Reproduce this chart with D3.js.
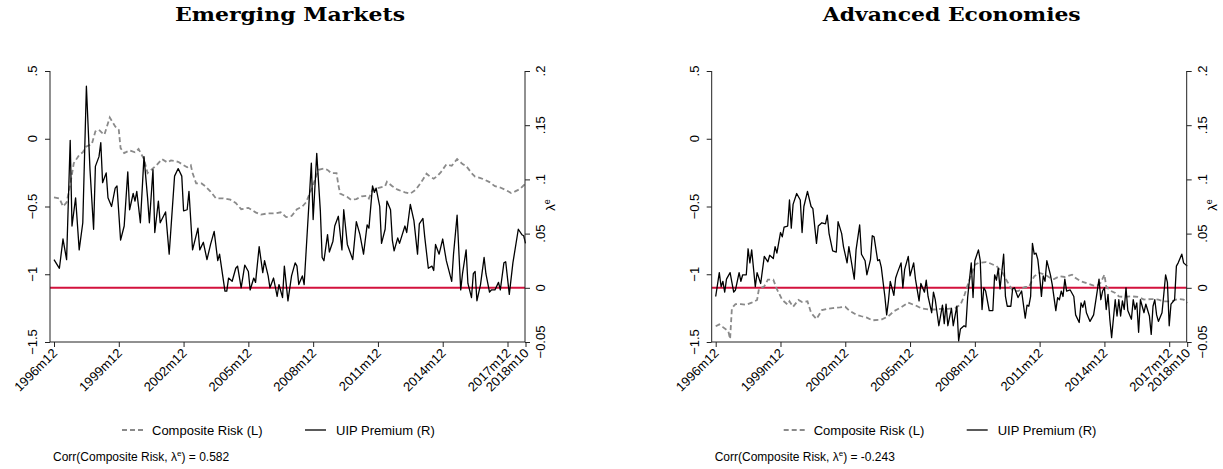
<!DOCTYPE html>
<html>
<head>
<meta charset="utf-8">
<script src="https://cdnjs.cloudflare.com/ajax/libs/d3/7.8.5/d3.min.js"></script>
<style>
  body { margin: 0; background: #fff; }
  text { font-family: "Liberation Sans", Arial, sans-serif; fill: #000; }
</style>
</head>
<body>
<svg id="chart" width="1223" height="469"></svg>
<script>
// months counted from 1996m12 (0) to 2018m10 (262)
const tickMonths = [0, 36, 72, 108, 144, 180, 216, 252, 262];

// Emerging markets
const emRiskMonth = [0,3,5,7,9,11,14,16,18,21,23,25,27,28,31,34,36,37,39,42,45,47,50,52,54,57,60,63,65,69,72,74,76,77,79,82,84,87,90,94,98,101,104,108,112,115,119,123,126,129,132,135,138,140,143,147,150,152,154,157,158,159,163,165,168,171,174,175,177,181,184,185,188,191,195,198,201,203,205,207,209,211,213,215,218,221,224,227,229,232,234,237,239,242,245,248,251,254,256,259,262];
const emRiskValue = [-0.432,-0.44,-0.5,-0.47,-0.34,-0.18,-0.12,-0.1,-0.057,-0.04,0.054,0.066,0.04,0.03,0.157,0.091,0.066,-0.069,-0.106,-0.086,-0.1,-0.076,-0.15,-0.253,-0.23,-0.195,-0.15,-0.175,-0.16,-0.17,-0.195,-0.21,-0.195,-0.253,-0.33,-0.33,-0.35,-0.39,-0.44,-0.44,-0.45,-0.474,-0.52,-0.51,-0.543,-0.56,-0.55,-0.55,-0.543,-0.578,-0.57,-0.52,-0.5,-0.47,-0.376,-0.229,-0.22,-0.23,-0.253,-0.253,-0.34,-0.405,-0.43,-0.45,-0.445,-0.425,-0.42,-0.44,-0.376,-0.36,-0.35,-0.317,-0.35,-0.376,-0.395,-0.405,-0.376,-0.34,-0.3,-0.258,-0.28,-0.295,-0.275,-0.246,-0.19,-0.2,-0.15,-0.187,-0.2,-0.253,-0.28,-0.29,-0.3,-0.32,-0.35,-0.36,-0.378,-0.4,-0.39,-0.37,-0.33];

const emUipMonth = [0,3,5,7,9,10,12,14,16,18,20,22,23,25,26,27,29,30,32,34,35,37,39,41,42,44,45,46,48,50,52,53,55,56,58,59,62,64,67,69,71,72,74,75,77,80,81,83,85,87,89,91,92,95,96,97,99,101,102,104,106,108,109,111,112,114,116,117,119,120,122,124,125,127,128,130,132,134,135,136,138,139,143,144,146,148,149,150,152,153,155,156,158,160,161,163,166,168,170,172,174,175,177,178,179,181,182,184,185,187,188,189,191,192,195,196,198,200,202,203,205,206,208,210,211,212,214,216,218,221,222,224,226,227,229,230,232,233,234,235,237,239,240,242,243,245,247,248,250,251,253,255,258,260,261,262];
const emUipValue = [0.026,0.018,0.045,0.026,0.136,0.057,0.083,0.035,0.06,0.186,0.109,0.054,0.112,0.121,0.134,0.097,0.106,0.083,0.075,0.092,0.094,0.044,0.057,0.107,0.072,0.087,0.08,0.089,0.06,0.121,0.083,0.06,0.109,0.051,0.08,0.06,0.07,0.031,0.103,0.11,0.103,0.071,0.072,0.089,0.035,0.055,0.035,0.042,0.026,0.04,0.052,0.025,0.031,-0.003,-0.003,0.009,0.006,0.018,0.02,0,0.021,0.015,-0.002,0.009,0.005,0.038,0.014,0.025,0.011,0,0.009,-0.008,0.003,-0.009,0.02,-0.012,0.011,0.023,0.02,0.003,0.011,0.003,0.115,0.063,0.124,0.071,0.028,0.025,0.049,0.033,0.043,0.057,0.066,0.035,0.072,0.04,0.026,0.061,0.049,0.031,0.058,0.055,0.094,0.088,0.092,0.075,0.041,0.054,0.08,0.072,0.044,0.034,0.046,0.041,0.057,0.051,0.077,0.062,0.031,0.059,0.064,0.047,0.018,0.02,0.016,0.04,0.031,0.045,0.025,0.006,0.031,0.067,-0.002,0.013,0.035,0.004,-0.009,0.013,0.015,-0.012,0.003,0.028,0.013,-0.004,-0.002,-0.002,0.005,-0.002,0.023,0.024,-0.006,0.023,0.054,0.049,0.048,0.041];

// Advanced economies
const aeRiskMonth = [0,2,4,7,8,9,11,14,17,20,23,24,27,29,32,34,37,40,41,43,46,48,51,53,56,59,62,65,69,72,74,78,81,84,87,92,96,99,103,107,111,114,118,122,125,129,133,136,138,141,144,146,150,152,156,159,161,163,165,168,171,172,174,177,180,183,186,188,191,194,198,200,203,207,210,212,214,216,217,219,222,224,227,231,235,238,242,246,249,253,257,260,262];
const aeRiskValue = [-1.384,-1.37,-1.39,-1.42,-1.477,-1.25,-1.22,-1.22,-1.225,-1.21,-1.19,-1.11,-1.089,-1.04,-1.04,-1.11,-1.19,-1.224,-1.2,-1.24,-1.19,-1.205,-1.2,-1.285,-1.33,-1.265,-1.255,-1.25,-1.245,-1.24,-1.265,-1.298,-1.31,-1.32,-1.34,-1.335,-1.31,-1.273,-1.245,-1.21,-1.23,-1.25,-1.26,-1.26,-1.255,-1.255,-1.25,-1.225,-1.163,-1.04,-0.93,-0.917,-0.91,-0.917,-0.94,-0.98,-1.03,-1.077,-1.12,-1.125,-1.1,-1.094,-1.094,-1.015,-0.99,-1.003,-1.028,-1.035,-1.015,-1.02,-1.003,-1.028,-1.052,-1.07,-1.084,-1.084,-1.06,-1.003,-1.09,-1.119,-1.138,-1.163,-1.168,-1.163,-1.168,-1.187,-1.183,-1.187,-1.2,-1.2,-1.183,-1.187,-1.212];

const aeUipMonth = [0,2,3,4,5,6,8,10,11,13,14,15,17,18,19,20,22,23,25,27,29,30,32,33,34,36,37,38,40,41,42,43,45,47,48,49,51,53,54,56,57,59,61,62,63,65,67,68,70,71,73,74,77,78,80,81,83,84,86,87,88,90,91,92,94,95,96,97,99,100,101,103,104,105,107,108,110,111,113,114,116,117,118,120,121,122,124,126,127,128,129,131,132,134,135,136,138,139,140,142,143,144,146,147,148,149,150,152,154,155,156,157,158,160,161,162,164,165,166,168,170,172,173,174,175,176,177,178,179,180,181,182,183,184,186,187,189,190,191,192,193,194,195,197,198,199,200,202,203,204,205,206,208,210,212,213,214,215,216,217,218,219,220,222,223,224,225,226,227,228,229,231,232,233,234,235,236,238,239,241,242,243,244,245,246,248,249,250,251,252,253,255,256,257,259,260,262];
const aeUipValue = [-0.008,0.014,0.001,0.006,-0.004,0.008,0.014,-0.004,-0.002,0.014,0.006,0.012,0.012,0.036,0.023,0.035,0.001,0.014,0.004,0.029,0.024,0.03,0.027,0.038,0.032,0.051,0.047,0.056,0.057,0.081,0.055,0.077,0.087,0.081,0.051,0.075,0.089,0.075,0.073,0.041,0.057,0.06,0.059,0.067,0.05,0.034,0.033,0.061,0.05,0.038,0.023,0.038,0.008,0.035,0.058,0.031,0.025,0.012,0.026,0.048,0.047,0.025,0.026,0.019,-0.008,-0.025,-0.012,0.006,-0.007,0.009,0.014,0.023,0,0.017,0.029,0.011,0.023,0.008,-0.012,0.004,-0.004,0.007,-0.008,-0.023,-0.004,-0.011,-0.035,-0.016,-0.033,-0.015,-0.035,-0.019,-0.035,-0.017,-0.049,-0.038,-0.035,-0.036,-0.009,0.023,-0.009,0.025,0.035,0.025,-0.02,0,-0.003,-0.021,-0.021,0.012,0.007,0.018,-0.001,0.031,-0.008,-0.017,-0.017,-0.001,0,-0.009,-0.003,-0.028,-0.016,-0.017,-0.008,0.041,0.031,0.032,0.026,0.011,-0.008,0.011,0.006,0.025,0.012,0.003,-0.021,-0.009,-0.011,-0.003,-0.008,0.008,-0.003,-0.002,-0.005,-0.008,-0.025,-0.032,-0.014,-0.018,-0.012,-0.023,-0.031,-0.025,-0.003,0.008,-0.011,-0.003,0,-0.02,-0.006,-0.029,-0.046,-0.011,-0.026,-0.011,-0.026,-0.012,-0.02,0,-0.021,-0.029,-0.011,-0.02,-0.014,-0.041,-0.011,-0.023,-0.015,-0.026,-0.043,-0.017,-0.011,-0.025,-0.031,-0.023,-0.006,0.012,0.005,-0.035,-0.015,-0.011,0.02,0.023,0.031,0.023,0.02];

const leftTicks = [-1.5, -1, -0.5, 0, 0.5];
const rightTicks = [-0.05, 0, 0.05, 0.1, 0.15, 0.2];

const svg = d3.select("#chart");

function monthLabel(m) {
  let total = 1996 * 12 + 11 + m;
  return Math.floor(total / 12) + "m" + (total % 12 + 1);
}

function numLabel(d) {
  let s = d3.format("")(+d.toFixed(2));
  return s.replace(/^0\./, ".").replace(/^-0\./, "-.");
}

function drawPanel(ox, title, titleWidth, riskM, riskV, uipM, uipV, corr) {
  let g = svg.append("g").attr("transform", "translate(" + ox + ",0)");

  let x = d3.scaleLinear().domain([0, 262]).range([54, 525.5]);
  let yL = d3.scaleLinear().domain([-1.5, 0.5]).range([342, 71]);
  let yR = d3.scaleLinear().domain([-0.05, 0.2]).range([342, 71]);

  g.append("text")
    .attr("x", 290).attr("y", 21)
    .attr("text-anchor", "middle")
    .attr("textLength", titleWidth)
    .attr("lengthAdjust", "spacingAndGlyphs")
    .style("font-family", "'DejaVu Serif', serif")
    .style("font-weight", "bold")
    .style("font-size", "18px")
    .text(title);

  // red zero line (right axis)
  g.append("line")
    .attr("x1", 50).attr("x2", 525)
    .attr("y1", yR(0)).attr("y2", yR(0))
    .attr("stroke", "#d3123d").attr("stroke-width", 2);

  let riskData = riskM.map((m, i) => [m, riskV[i]]);
  let uipData = uipM.map((m, i) => [m, uipV[i]]);

  g.append("path")
    .datum(riskData)
    .attr("fill", "none")
    .attr("stroke", "#8a8a8a")
    .attr("stroke-width", 1.8)
    .attr("stroke-dasharray", "5,3")
    .attr("d", d3.line().x(d => x(d[0])).y(d => yL(d[1])));

  g.append("path")
    .datum(uipData)
    .attr("fill", "none")
    .attr("stroke", "#000")
    .attr("stroke-width", 1.3)
    .attr("stroke-linejoin", "round")
    .attr("d", d3.line().x(d => x(d[0])).y(d => yR(d[1])));

  // axes
  let axL = g.append("g").attr("transform", "translate(50,0)")
    .call(d3.axisLeft(yL).tickValues(leftTicks).tickSize(5).tickFormat(""));
  let axR = g.append("g").attr("transform", "translate(525,0)")
    .call(d3.axisRight(yR).tickValues(rightTicks).tickSize(5).tickFormat(""));
  let axB = g.append("g").attr("transform", "translate(0,342)")
    .call(d3.axisBottom(x).tickValues(tickMonths).tickSize(5).tickFormat(""));
  [axL, axR, axB].forEach(a => {
    a.select(".domain").remove();
    a.selectAll("line").attr("stroke", "#222");
  });
  g.append("line").attr("x1", 50).attr("x2", 50).attr("y1", 71).attr("y2", 342).attr("stroke", "#222");
  g.append("line").attr("x1", 525).attr("x2", 525).attr("y1", 71).attr("y2", 342).attr("stroke", "#222");
  g.append("line").attr("x1", 50).attr("x2", 525).attr("y1", 342).attr("y2", 342).attr("stroke", "#222");

  g.selectAll(".ylab")
    .data(leftTicks)
    .enter().append("text")
    .attr("transform", d => "translate(37," + yL(d) + ") rotate(-90)")
    .attr("text-anchor", "middle")
    .style("font-size", "13px")
    .text(numLabel);

  g.selectAll(".rlab")
    .data(rightTicks)
    .enter().append("text")
    .attr("transform", d => "translate(545," + yR(d) + ") rotate(-90)")
    .attr("text-anchor", "middle")
    .style("font-size", "13px")
    .text(numLabel);

  let lam = g.append("text")
    .attr("transform", "translate(555,205) rotate(-90)")
    .attr("text-anchor", "middle")
    .style("font-size", "13px");
  lam.append("tspan").text("\u03bb");
  lam.append("tspan").attr("dy", "-5").style("font-size", "9px").text("e");

  g.selectAll(".xlab")
    .data(tickMonths)
    .enter().append("text")
    .attr("transform", d => "translate(" + (x(d) + 4) + ",354) rotate(-45)")
    .attr("text-anchor", "end")
    .style("font-size", "13px")
    .text(monthLabel);

  // legend
  g.append("line").attr("x1", 122).attr("x2", 143).attr("y1", 430).attr("y2", 430)
    .attr("stroke", "#8a8a8a").attr("stroke-width", 1.8).attr("stroke-dasharray", "5,3");
  g.append("text").attr("x", 152).attr("y", 435).style("font-size", "13px").text("Composite Risk (L)");
  g.append("line").attr("x1", 305).attr("x2", 326).attr("y1", 430).attr("y2", 430)
    .attr("stroke", "#000").attr("stroke-width", 1.3);
  g.append("text").attr("x", 336).attr("y", 435).style("font-size", "13px").text("UIP Premium (R)");

  let c = g.append("text").attr("x", 53).attr("y", 461).style("font-size", "12px");
  c.append("tspan").text("Corr(Composite Risk, \u03bb");
  c.append("tspan").attr("dy", "-5").style("font-size", "8px").text("e");
  c.append("tspan").attr("dy", "5").text(") = " + corr);
}

drawPanel(0, "Emerging Markets", 230, emRiskMonth, emRiskValue, emUipMonth, emUipValue, "0.582");
drawPanel(661.7, "Advanced Economies", 258, aeRiskMonth, aeRiskValue, aeUipMonth, aeUipValue, "-0.243");
</script>
</body>
</html>
